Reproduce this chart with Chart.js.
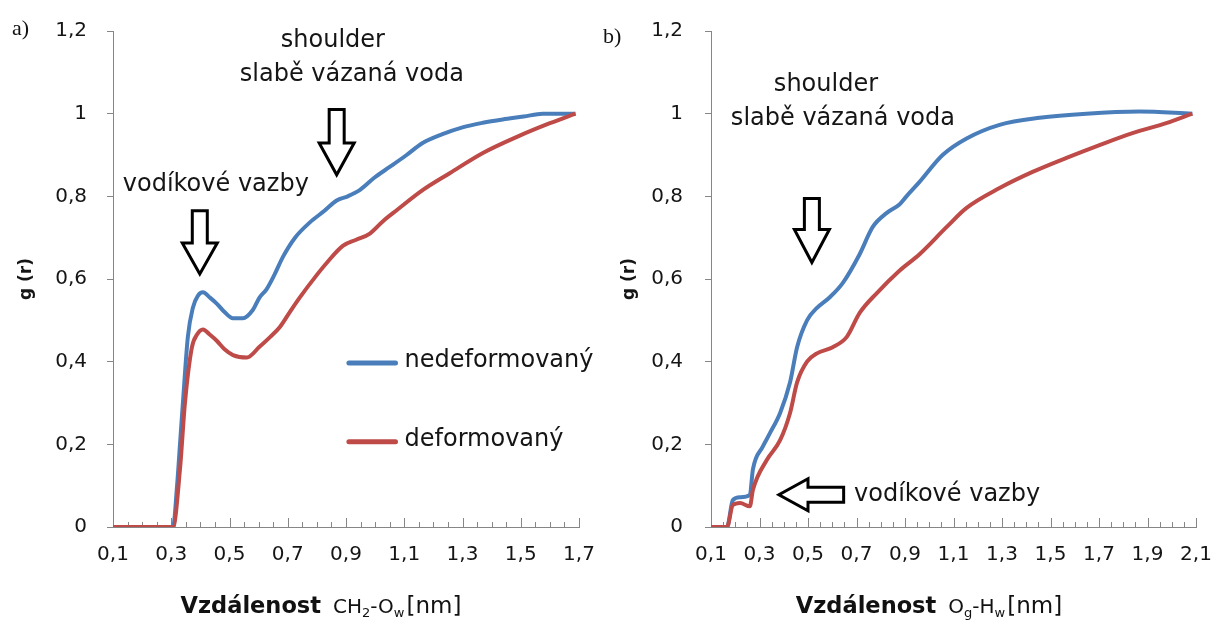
<!DOCTYPE html>
<html>
<head>
<meta charset="utf-8">
<script src="https://cdn.jsdelivr.net/npm/chart.js@4.4.1/dist/chart.umd.min.js"></script>
<style>
  body { margin: 0; width: 1215px; height: 621px; background: #fff; position: relative; overflow: hidden; font-family: "DejaVu Sans", sans-serif; color: #111; }
  .panel { position: absolute; top: 0; height: 621px; }
  #panelA { left: 0; width: 607px; }
  #panelB { left: 607px; width: 608px; }
  .tag { position: absolute; font: 22px "Liberation Serif", serif; line-height: 1; }
  .xtitle { position: absolute; top: 590px; width: 400px; text-align: center; font-size: 20px; line-height: 30px; white-space: nowrap; }
  .xtitle b { font-size: 22.5px; margin-right: 12px; }
  .xtitle sub { font-size: 13px; vertical-align: -4px; }
  .xtitle .nm { font-size: 23px; margin-left: 2px; }
</style>
</head>
<body>
<div class="panel" id="panelA"><canvas id="chartA" width="607" height="621"></canvas></div>
<div class="panel" id="panelB"><canvas id="chartB" width="608" height="621"></canvas></div>
<div class="tag" style="left:12px;top:17px">a)</div>
<div class="tag" style="left:603px;top:25px">b)</div>
<div class="xtitle" style="left:121px"><b>Vzdálenost</b>CH<sub>2</sub>-O<sub>w</sub><span class="nm">[nm]</span></div>
<div class="xtitle" style="left:729px"><b>Vzdálenost</b>O<sub>g</sub>-H<sub>w</sub><span class="nm">[nm]</span></div>
<script>
const seriesNames = ['nedeformovaný', 'deformovaný'];
const yTickValues = [0, 0.2, 0.4, 0.6, 0.8, 1, 1.2];
const xTickValuesA = [0.1, 0.3, 0.5, 0.7, 0.9, 1.1, 1.3, 1.5, 1.7];
const xTickValuesB = [0.1, 0.3, 0.5, 0.7, 0.9, 1.1, 1.3, 1.5, 1.7, 1.9, 2.1];

// a) CH2-Ow
const leftBlueX = [0.1, 0.306, 0.32, 0.33, 0.34, 0.357, 0.374, 0.392, 0.409, 0.433, 0.457, 0.483, 0.512, 0.546, 0.58, 0.603, 0.627, 0.654, 0.683, 0.725, 0.776, 0.826, 0.868, 0.906, 0.947, 0.997, 1.05, 1.108, 1.163, 1.229, 1.3, 1.37, 1.438, 1.51, 1.575, 1.632, 1.688];
const leftBlueY = [0, 0, 0.1, 0.2, 0.3, 0.46, 0.53, 0.56, 0.568, 0.555, 0.54, 0.52, 0.505, 0.505, 0.525, 0.555, 0.575, 0.61, 0.653, 0.7, 0.737, 0.765, 0.79, 0.8, 0.815, 0.845, 0.871, 0.9, 0.929, 0.95, 0.967, 0.978, 0.986, 0.993, 1.0, 1.0, 1.0];
const leftRedX = [0.1, 0.306, 0.33, 0.347, 0.371, 0.388, 0.409, 0.433, 0.457, 0.483, 0.512, 0.56, 0.603, 0.64, 0.673, 0.707, 0.741, 0.8, 0.835, 0.889, 0.935, 0.982, 1.027, 1.075, 1.163, 1.256, 1.37, 1.487, 1.6, 1.688];
const leftRedY = [0, 0, 0.14, 0.3, 0.435, 0.465, 0.478, 0.465, 0.45, 0.43, 0.416, 0.41, 0.436, 0.46, 0.484, 0.52, 0.555, 0.61, 0.64, 0.68, 0.695, 0.71, 0.74, 0.767, 0.815, 0.856, 0.905, 0.944, 0.977, 1.0];

// b) Og-Hw
const rightBlueX = [0.1, 0.166, 0.19, 0.22, 0.26, 0.273, 0.314, 0.343, 0.385, 0.426, 0.455, 0.496, 0.537, 0.59, 0.643, 0.713, 0.767, 0.825, 0.877, 0.906, 0.96, 1.055, 1.154, 1.29, 1.455, 1.648, 1.866, 2.085];
const rightBlueY = [0, 0, 0.065, 0.072, 0.077, 0.14, 0.195, 0.227, 0.276, 0.35, 0.435, 0.5, 0.53, 0.556, 0.59, 0.66, 0.726, 0.76, 0.78, 0.8, 0.835, 0.9, 0.94, 0.973, 0.99, 1.0, 1.005, 1.0];
const rightRedX = [0.1, 0.166, 0.19, 0.22, 0.26, 0.273, 0.33, 0.385, 0.426, 0.455, 0.496, 0.537, 0.602, 0.66, 0.713, 0.784, 0.877, 0.96, 1.072, 1.154, 1.29, 1.426, 1.566, 1.702, 1.838, 1.977, 2.085];
const rightRedY = [0, 0, 0.053, 0.058, 0.05, 0.09, 0.162, 0.21, 0.276, 0.35, 0.4, 0.42, 0.435, 0.46, 0.518, 0.566, 0.62, 0.66, 0.726, 0.772, 0.82, 0.859, 0.893, 0.924, 0.953, 0.977, 1.0];

const BLUE = '#4A7EBB';
const RED  = '#BE4B48';
const AXIS = '#868686';
const INK  = '#151515';
const FONT = '"DejaVu Sans", sans-serif';

const fmt = (v) => String(v).replace('.', ',');
const pts = (xs, ys) => xs.map((x, i) => ({ x, y: ys[i] }));

// small upward tick marks on the x axis every 0.05, longer at labelled values
const innerTicks = {
    id: 'innerTicks',
    beforeDatasetsDraw(chart) {
        const { ctx, chartArea, scales: { x } } = chart;
        const n = Math.round((x.max - x.min) / 0.05);
        ctx.save();
        ctx.strokeStyle = AXIS;
        ctx.lineWidth = 1;
        for (let i = 1; i <= n; i++) {
            const px = Math.round(x.getPixelForValue(x.min + i * 0.05)) + 0.5;
            const len = i % 4 === 0 ? 9 : 5;
            ctx.beginPath();
            ctx.moveTo(px, chartArea.bottom);
            ctx.lineTo(px, chartArea.bottom - len);
            ctx.stroke();
        }
        ctx.restore();
    },
};

// hollow block arrows, notes and the inline legend
const notes = {
    id: 'notes',
    afterDraw(chart, args, opts) {
        const { ctx, scales: { x, y } } = chart;
        ctx.save();
        ctx.fillStyle = INK;
        ctx.textBaseline = 'middle';
        (opts.texts || []).forEach((t) => {
            ctx.font = `${t.size}px ${FONT}`;
            ctx.textAlign = t.align || 'center';
            ctx.fillText(t.text, x.getPixelForValue(t.x), y.getPixelForValue(t.y));
        });

        ctx.strokeStyle = '#000';
        ctx.lineWidth = 3;
        ctx.lineJoin = 'miter';
        (opts.downArrows || []).forEach((a) => {
            const cx = x.getPixelForValue(a.x);
            const top = y.getPixelForValue(a.top);
            const base = y.getPixelForValue(a.base);
            const tip = y.getPixelForValue(a.tip);
            ctx.beginPath();
            ctx.moveTo(cx - 7.5, top);
            ctx.lineTo(cx + 7.5, top);
            ctx.lineTo(cx + 7.5, base);
            ctx.lineTo(cx + 17.5, base);
            ctx.lineTo(cx, tip);
            ctx.lineTo(cx - 17.5, base);
            ctx.lineTo(cx - 7.5, base);
            ctx.closePath();
            ctx.stroke();
        });
        (opts.leftArrows || []).forEach((a) => {
            const cy = y.getPixelForValue(a.y);
            const tip = x.getPixelForValue(a.tip);
            const base = x.getPixelForValue(a.base);
            const tail = x.getPixelForValue(a.tail);
            ctx.beginPath();
            ctx.moveTo(tail, cy - 7.5);
            ctx.lineTo(tail, cy + 7.5);
            ctx.lineTo(base, cy + 7.5);
            ctx.lineTo(base, cy + 16);
            ctx.lineTo(tip, cy);
            ctx.lineTo(base, cy - 16);
            ctx.lineTo(base, cy - 7.5);
            ctx.closePath();
            ctx.stroke();
        });

        (opts.legend || []).forEach((l) => {
            const py = y.getPixelForValue(l.y);
            ctx.strokeStyle = l.color;
            ctx.lineWidth = 5;
            ctx.lineCap = 'round';
            ctx.beginPath();
            ctx.moveTo(x.getPixelForValue(l.x0), py);
            ctx.lineTo(x.getPixelForValue(l.x1), py);
            ctx.stroke();
            ctx.font = `24px ${FONT}`;
            ctx.textAlign = 'left';
            ctx.fillStyle = INK;
            ctx.fillText(l.text, x.getPixelForValue(l.x1) + 9, py - 2);
        });
        ctx.restore();
    },
};

function makeChart(canvasId, cfg) {
    return new Chart(document.getElementById(canvasId), {
        type: 'line',
        data: {
            datasets: [
                { label: seriesNames[1], data: pts(cfg.redX, cfg.redY), borderColor: RED, order: 0 },
                { label: seriesNames[0], data: pts(cfg.blueX, cfg.blueY), borderColor: BLUE, order: 1 },
            ],
        },
        options: {
            responsive: false,
            animation: false,
            layout: { padding: { top: 31, right: cfg.padRight, bottom: 0, left: 0 } },
            elements: {
                line: { borderWidth: 4, cubicInterpolationMode: 'monotone', fill: false },
                point: { radius: 0 },
            },
            plugins: {
                legend: { display: false },
                tooltip: { enabled: false },
                notes: cfg.notes,
            },
            scales: {
                x: {
                    type: 'linear',
                    min: cfg.xMin,
                    max: cfg.xMax,
                    afterBuildTicks: (s) => { s.ticks = cfg.xTicks.map((v) => ({ value: v })); },
                    afterFit: (s) => { s.height = 94; s.paddingLeft = 0; s.paddingRight = 0; },
                    grid: { display: false, drawTicks: false },
                    border: { display: true, color: AXIS, width: 1 },
                    ticks: {
                        autoSkip: false, maxRotation: 0, padding: 16, color: INK,
                        font: { family: FONT, size: 20 },
                        callback: (v) => fmt(v),
                    },
                },
                y: {
                    min: 0,
                    max: 1.2,
                    afterBuildTicks: (s) => { s.ticks = yTickValues.map((v) => ({ value: v })); },
                    afterFit: (s) => { s.width = cfg.yWidth; s.paddingTop = 0; s.paddingBottom = 0; },
                    grid: { drawOnChartArea: false, tickLength: 6, color: AXIS },
                    border: { display: true, color: AXIS, width: 1 },
                    ticks: {
                        padding: cfg.yPad, color: INK,
                        font: { family: FONT, size: 20 },
                        callback: (v) => fmt(v),
                    },
                    title: {
                        display: true, text: 'g (r)', color: INK,
                        font: { family: FONT, size: 17, weight: 'bold' },
                        padding: { top: cfg.titlePad, bottom: 0 },
                    },
                },
            },
        },
        plugins: [innerTicks, notes],
    });
}

makeChart('chartA', {
    blueX: leftBlueX, blueY: leftBlueY, redX: leftRedX, redY: leftRedY,
    xMin: 0.1, xMax: 1.7, xTicks: xTickValuesA,
    padRight: 28, yWidth: 113, yPad: 20, titlePad: 16,
    notes: {
        texts: [
            { text: 'shoulder', x: 0.855, y: 1.176, size: 24 },
            { text: 'slabě vázaná voda', x: 0.92, y: 1.094, size: 24 },
            { text: 'vodíkové vazby', x: 0.453, y: 0.827, size: 24 },
        ],
        downArrows: [
            { x: 0.398, top: 0.765, base: 0.687, tip: 0.612 },
            { x: 0.868, top: 1.01, base: 0.929, tip: 0.852 },
        ],
        legend: [
            { text: seriesNames[0], color: BLUE, x0: 0.91, x1: 1.07, y: 0.397 },
            { text: seriesNames[1], color: RED, x0: 0.91, x1: 1.07, y: 0.206 },
        ],
    },
});

makeChart('chartB', {
    blueX: rightBlueX, blueY: rightBlueY, redX: rightRedX, redY: rightRedY,
    xMin: 0.1, xMax: 2.1, xTicks: xTickValuesB,
    padRight: 19, yWidth: 104, yPad: 22, titlePad: 12,
    notes: {
        texts: [
            { text: 'shoulder', x: 0.574, y: 1.071, size: 24 },
            { text: 'slabě vázaná voda', x: 0.644, y: 0.987, size: 24 },
            { text: 'vodíkové vazby', x: 0.69, y: 0.078, size: 24, align: 'left' },
        ],
        downArrows: [
            { x: 0.516, top: 0.795, base: 0.72, tip: 0.64 },
        ],
        leftArrows: [
            { y: 0.078, tip: 0.38, base: 0.5, tail: 0.647 },
        ],
    },
});
</script>
</body>
</html>
